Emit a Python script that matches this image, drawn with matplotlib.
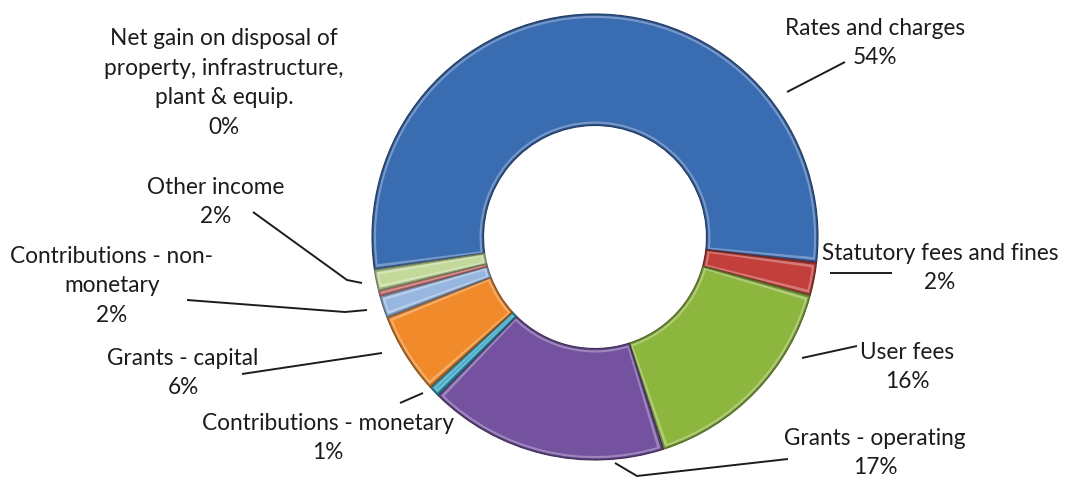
import matplotlib
matplotlib.use("Agg")
import matplotlib.pyplot as plt
from matplotlib.patches import Wedge
import matplotlib.colors as mcolors
import numpy as np

# Income sources (share of total, %)
categories = [
    "Rates and charges",
    "Statutory fees and fines",
    "User fees",
    "Grants - operating",
    "Contributions - monetary",
    "Grants - capital",
    "Contributions - non-\nmonetary",
    "Net gain on disposal of\nproperty, infrastructure,\nplant & equip.",
    "Other income",
]
shares = [54.2, 2.4, 15.8, 17.4, 0.8, 5.9, 1.6, 0.4, 1.5]
colors = ["#3A6CB2", "#C23F3C", "#8DB63E", "#7452A0", "#33A2C0",
          "#F08A2A", "#98B7E0", "#E38E8C", "#C3D99A"]

W, H = 1068, 479
fig = plt.figure(figsize=(W / 100, H / 100), dpi=100)
ax = fig.add_axes([0, 0, 1, 1])

def P(x, y):
    """Pixel position (origin top-left) to data coordinates."""
    return x, H - y

cx, cy = P(595, 237)
R = 223.0
ring = 111.5

wedges, _ = ax.pie(shares, colors=colors, startangle=188.5, counterclock=False,
                   radius=R, center=(cx, cy),
                   wedgeprops=dict(width=ring, linewidth=0.8))

def shade(c, f):
    r, g, b = mcolors.to_rgb(c)
    if f < 0:
        return (r * (1 + f), g * (1 + f), b * (1 + f))
    return (r + (1 - r) * f, g + (1 - g) * f, b + (1 - b) * f)

# bevel look: darker rim, lighter highlight band, flat face in the middle
for w, c in zip(wedges, colors):
    w.set_facecolor(shade(c, -0.22))
    w.set_edgecolor(shade(c, -0.45))
    t1, t2 = w.theta1, w.theta2
    span = t2 - t1
    inset_px = 4.0
    for grow, col, z in [(inset_px * 0.45, shade(c, 0.30), 3), (inset_px, c, 4)]:
        r_out = R - grow
        r_in = R - ring + grow
        da = np.degrees(grow / ((r_out + r_in) / 2))
        if span - 2 * da <= 0.2:
            da = max(0.0, span / 2 - 0.15)
        ax.add_patch(Wedge((cx, cy), r_out, t1 + da, t2 - da,
                           width=r_out - r_in, facecolor=col,
                           edgecolor="none", zorder=z))

ax.set_xlim(0, W)
ax.set_ylim(0, H)
ax.set_aspect("equal")
ax.axis("off")

font = dict(family=["Lato", "DejaVu Sans"], fontsize=16.3, color="#1c1c1c",
            ha="center", va="center", linespacing=1.5)

pct = [f"{round(s):.0f}%" for s in shares]

label_pos = [
    (875, 43),    # Rates and charges
    (940, 268),   # Statutory fees and fines
    (907, 367),   # User fees
    (875, 453),   # Grants - operating
    (328, 438),   # Contributions - monetary
    (183, 373),   # Grants - capital
    (112, 286),   # Contributions - non-monetary
    (224, 83),    # Net gain on disposal
    (216, 202),   # Other income
]

for name, p, (x, y) in zip(categories, pct, label_pos):
    ax.text(*P(x, y), f"{name}\n{p}", **font)

leaders = [
    [(845, 62), (787, 92)],
    [(830, 273), (892, 273)],
    [(802, 358), (857, 346)],
    [(788, 459), (637, 476), (615, 463)],
    [(400, 403), (423, 393)],
    [(242, 374), (382, 353)],
    [(187, 300), (345, 312), (367, 310)],
    [(253, 212), (347, 280), (362, 283)],
]
for pts in leaders:
    xs, ys = zip(*[P(x, y) for x, y in pts])
    ax.plot(xs, ys, color="#1c1c1c", lw=1.4, solid_capstyle="butt", zorder=5)

fig.savefig("out.png", dpi=100)
